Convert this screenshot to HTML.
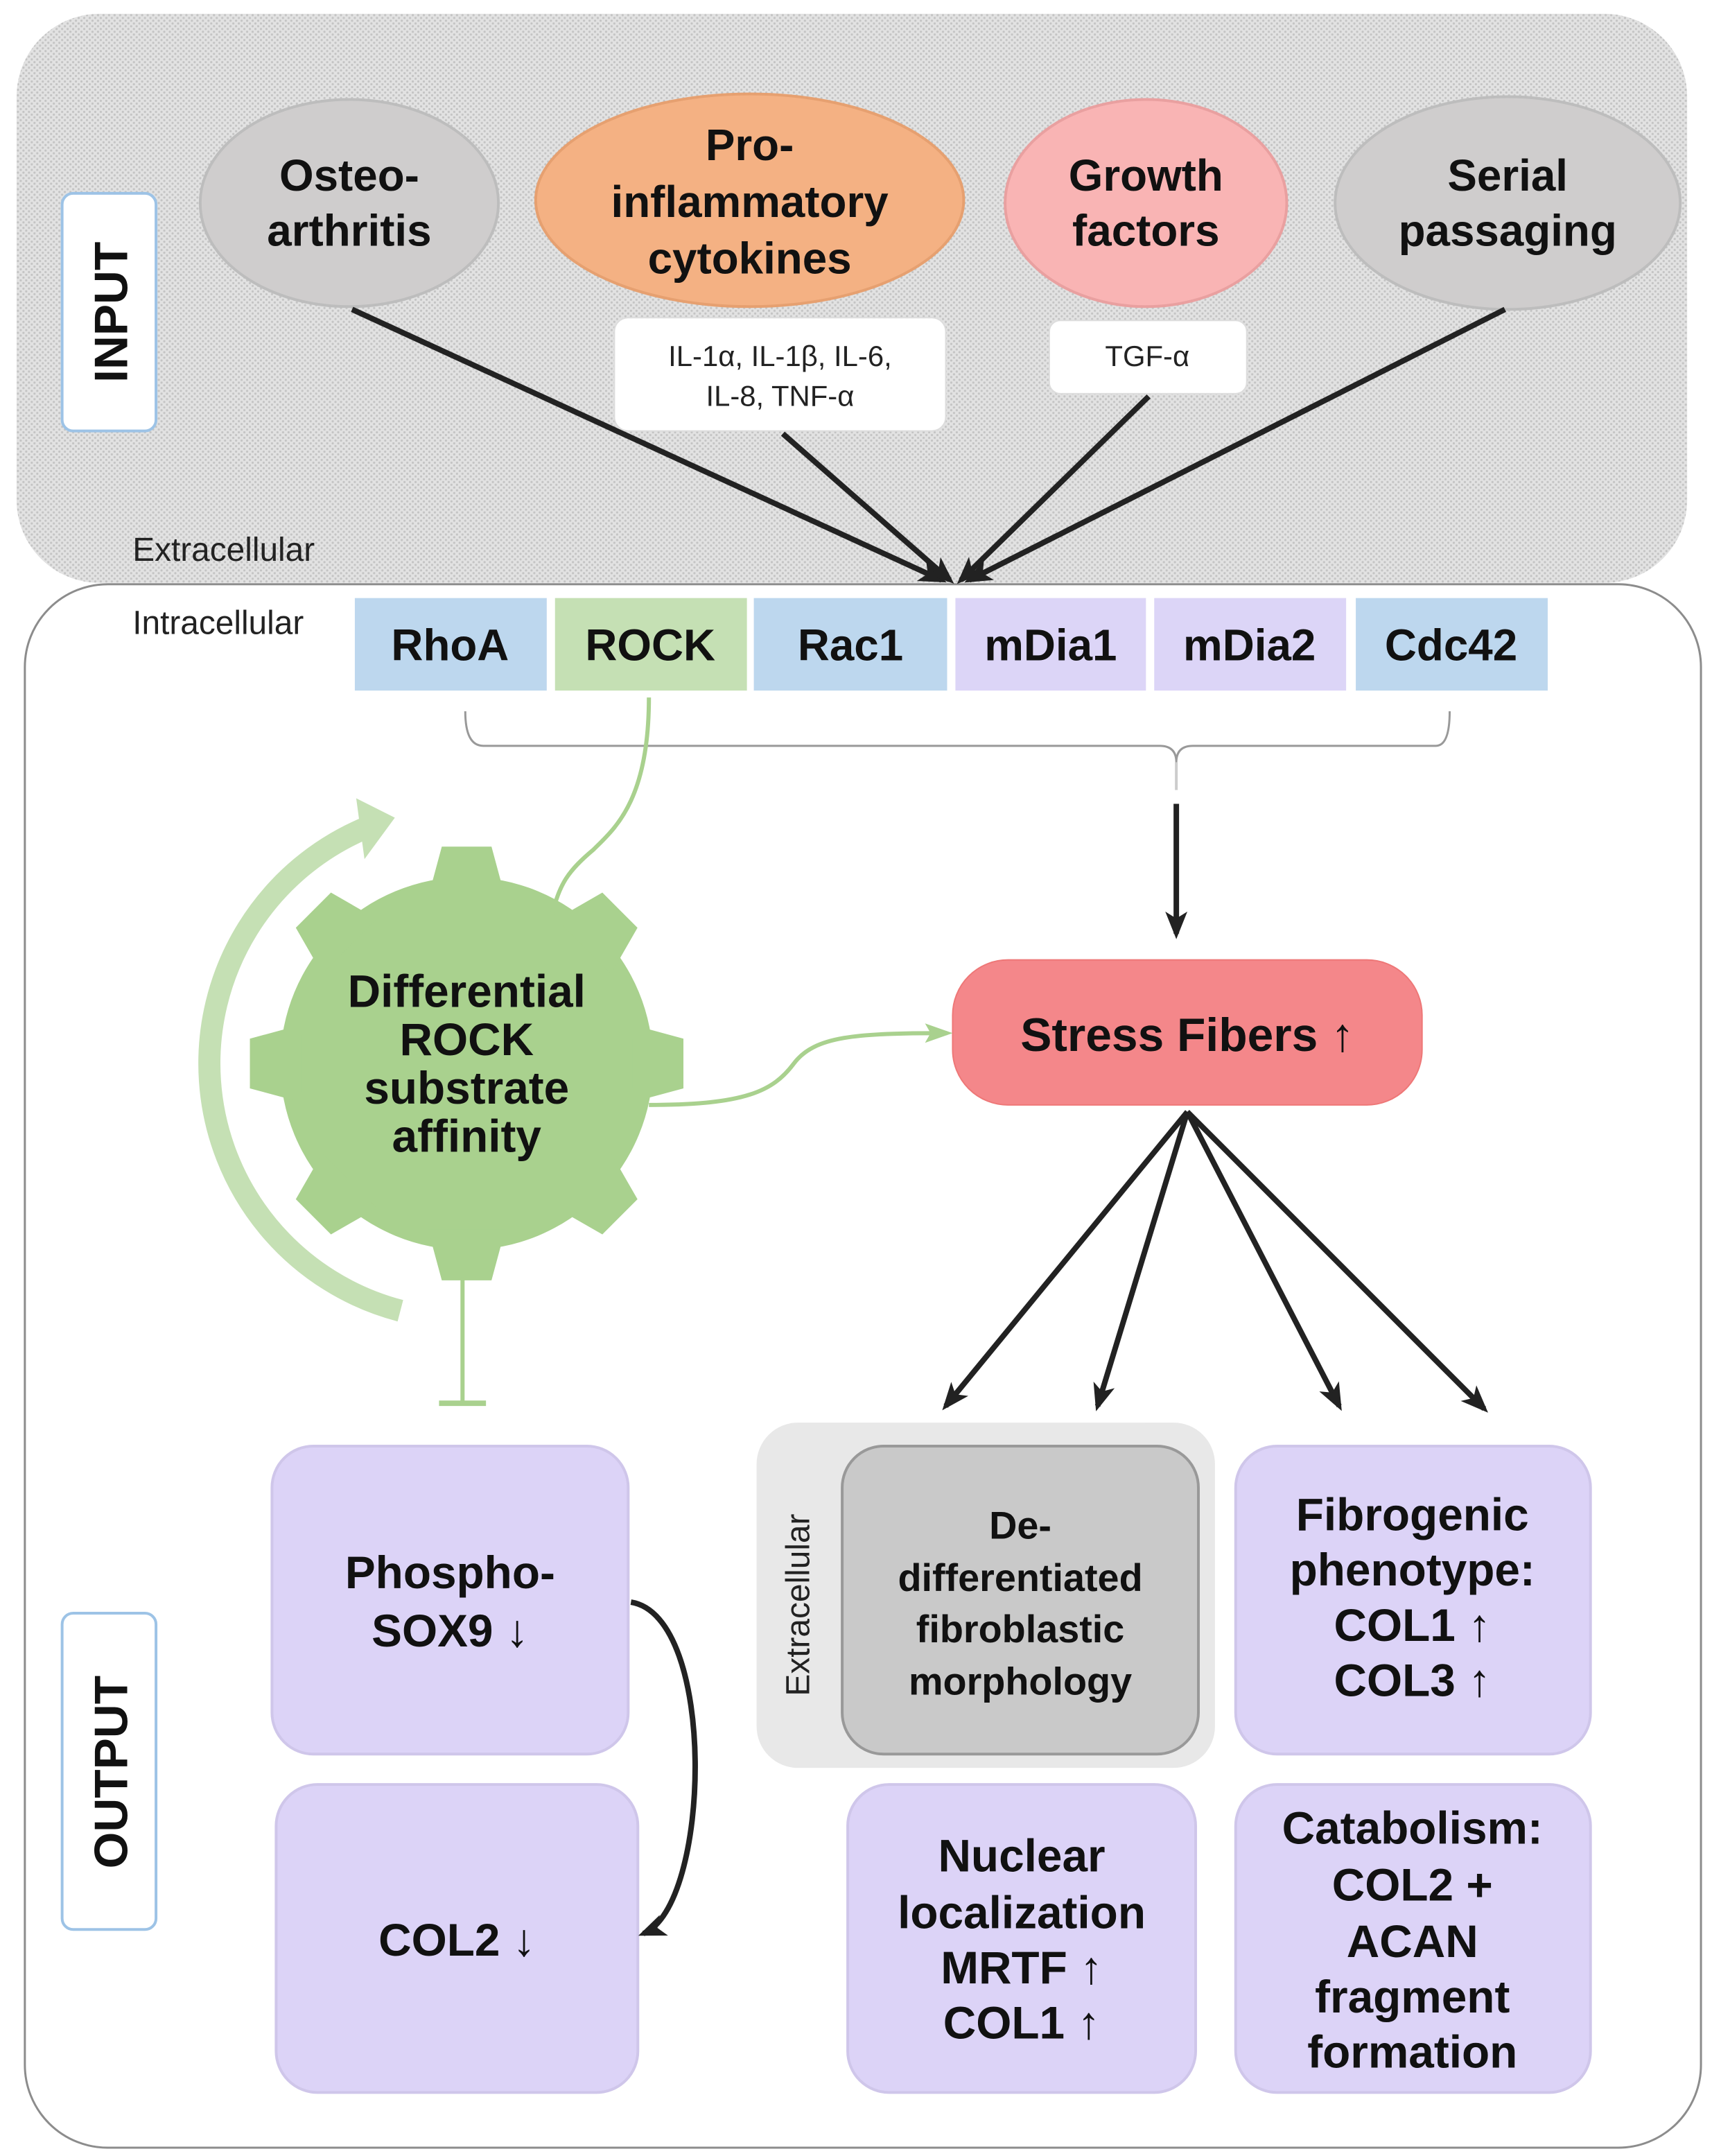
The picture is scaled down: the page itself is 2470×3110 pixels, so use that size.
<!DOCTYPE html>
<html><head><meta charset="utf-8"><style>
html,body{margin:0;padding:0;background:#fff;}
svg{display:block;}
text{font-family:"Liberation Sans",Arial,sans-serif;}
.b{font-weight:bold;fill:#111;}
</style></head><body>
<svg width="2470" height="3110" viewBox="0 0 1240 1561" preserveAspectRatio="none" xmlns="http://www.w3.org/2000/svg">
<defs>
<pattern id="dots" width="4" height="4" patternUnits="userSpaceOnUse">
<rect width="4" height="4" fill="#e2e2e2"/><circle cx="1" cy="1" r="0.8" fill="#c4c4c4"/><circle cx="3" cy="3" r="0.8" fill="#c4c4c4"/>
</pattern>
<marker id="ahb" markerWidth="20" markerHeight="20" refX="16" refY="10" orient="auto" markerUnits="userSpaceOnUse" viewBox="0 0 20 20">
<path d="M0,2 L20,10 L0,18 L5,10 Z" fill="#222"/></marker>
<marker id="ahg" markerWidth="20" markerHeight="20" refX="16" refY="10" orient="auto" markerUnits="userSpaceOnUse" viewBox="0 0 20 20">
<path d="M0,3 L20,10 L0,17 L4,10 Z" fill="#a9d18e"/></marker>
</defs>
<rect width="1240" height="1561" fill="#fff"/>
<rect x="12" y="10" width="1210" height="412" rx="60" fill="url(#dots)"/>
<rect x="18" y="423" width="1214" height="1132" rx="60" fill="#fff" stroke="#8c8c8c" stroke-width="1.5"/>
<rect x="45" y="140" width="68" height="172" rx="8" fill="#fff" stroke="#9dc3e6" stroke-width="2"/>
<text class="b" x="0" y="0" font-size="34" text-anchor="middle" transform="translate(92,226) rotate(-90)">INPUT</text>
<rect x="45" y="1168" width="68" height="229" rx="8" fill="#fff" stroke="#9dc3e6" stroke-width="2"/>
<text class="b" x="0" y="0" font-size="34" text-anchor="middle" transform="translate(92,1283) rotate(-90)">OUTPUT</text>
<ellipse cx="253" cy="147" rx="108" ry="75" fill="#cfcdcd" stroke="#bdbdbd" stroke-width="2"/>
<text class="b" font-size="32" text-anchor="middle"><tspan x="253" y="138">Osteo-</tspan><tspan x="253" y="178">arthritis</tspan></text>
<ellipse cx="543" cy="145" rx="155" ry="77" fill="#f4b183" stroke="#e6a070" stroke-width="2"/>
<text class="b" font-size="32" text-anchor="middle"><tspan x="543" y="116">Pro-</tspan><tspan x="543" y="157">inflammatory</tspan><tspan x="543" y="198">cytokines</tspan></text>
<ellipse cx="830" cy="147" rx="102" ry="75" fill="#f9b4b4" stroke="#e9a0a0" stroke-width="2"/>
<text class="b" font-size="32" text-anchor="middle"><tspan x="830" y="138">Growth</tspan><tspan x="830" y="178">factors</tspan></text>
<ellipse cx="1092" cy="147" rx="125" ry="77" fill="#cfcdcd" stroke="#bdbdbd" stroke-width="2"/>
<text class="b" font-size="32" text-anchor="middle"><tspan x="1092" y="138">Serial</tspan><tspan x="1092" y="178">passaging</tspan></text>
<rect x="445" y="230" width="240" height="82" rx="10" fill="#fff" stroke="#ddd"/>
<text font-size="21" text-anchor="middle" fill="#222"><tspan x="565" y="265">IL-1α, IL-1β, IL-6,</tspan><tspan x="565" y="294">IL-8, TNF-α</tspan></text>
<rect x="760" y="232" width="143" height="53" rx="8" fill="#fff" stroke="#ddd"/>
<text font-size="21" text-anchor="middle" fill="#222" x="831" y="265">TGF-α</text>
<g stroke="#222" stroke-width="4" fill="none">
<line x1="255" y1="224" x2="682" y2="420" marker-end="url(#ahb)"/>
<line x1="567" y1="314" x2="688" y2="420" marker-end="url(#ahb)"/>
<line x1="832" y1="287" x2="696" y2="420" marker-end="url(#ahb)"/>
<line x1="1090" y1="224" x2="702" y2="420" marker-end="url(#ahb)"/>
</g>
<text font-size="24" fill="#222" x="96" y="406">Extracellular</text>
<text font-size="24" fill="#222" x="96" y="459">Intracellular</text>
<rect x="257" y="433" width="139" height="67" fill="#bdd7ee"/>
<rect x="402" y="433" width="139" height="67" fill="#c5e0b4"/>
<rect x="546" y="433" width="140" height="67" fill="#bdd7ee"/>
<rect x="692" y="433" width="138" height="67" fill="#dcd5f7"/>
<rect x="836" y="433" width="139" height="67" fill="#dcd5f7"/>
<rect x="982" y="433" width="139" height="67" fill="#bdd7ee"/>
<g font-size="32" text-anchor="middle">
<text x="326" y="478" class="b">RhoA</text><text x="471" y="478" class="b">ROCK</text><text x="616" y="478" class="b">Rac1</text>
<text x="761" y="478" class="b">mDia1</text><text x="905" y="478" class="b">mDia2</text><text x="1051" y="478" class="b">Cdc42</text>
</g>
<path d="M337,515 Q337,540 350,540 L840,540 Q852,540 852,552 Q852,540 864,540 L1040,540 Q1050,540 1050,515" stroke="#999" stroke-width="1.5" fill="none"/>
<line x1="852" y1="552" x2="852" y2="572" stroke="#ccc" stroke-width="2"/>
<line x1="852" y1="582" x2="852" y2="676" stroke="#222" stroke-width="4" marker-end="url(#ahb)"/>
<rect x="690" y="695" width="340" height="105" rx="40" fill="#f4878a" stroke="#e77" stroke-width="1"/>
<text class="b" font-size="34" text-anchor="middle" x="860" y="761">Stress Fibers ↑</text>
<!-- arc arrow -->
<path d="M290,949 A185,185 0 0 1 266,599" stroke="#c5e0b4" stroke-width="16" fill="none"/>
<path d="M258,578 L286,592 L264,622 Z" fill="#c5e0b4"/>
<!-- gear -->
<g fill="#a9d18e" transform="translate(338,770)">
<circle r="135"/>
<path id="t" d="M-28,-120 L-18,-157 L18,-157 L28,-120 Z"/>
<use href="#t" transform="rotate(45)"/><use href="#t" transform="rotate(90)"/><use href="#t" transform="rotate(135)"/>
<use href="#t" transform="rotate(180)"/><use href="#t" transform="rotate(225)"/><use href="#t" transform="rotate(270)"/><use href="#t" transform="rotate(315)"/>
</g>
<text class="b" font-size="33" text-anchor="middle"><tspan x="338" y="729">Differential</tspan><tspan x="338" y="764">ROCK</tspan><tspan x="338" y="799">substrate</tspan><tspan x="338" y="834">affinity</tspan></text>
<path d="M470,505 C470,580 445,600 430,615 C412,630 405,640 400,662" stroke="#a9d18e" stroke-width="3" fill="none"/>
<path d="M470,800 C540,800 560,790 575,770 C590,750 620,748 686,748" stroke="#a9d18e" stroke-width="3" fill="none" marker-end="url(#ahg)"/>
<line x1="335" y1="925" x2="335" y2="1016" stroke="#a9d18e" stroke-width="3"/>
<line x1="318" y1="1016" x2="352" y2="1016" stroke="#a9d18e" stroke-width="4"/>
<g stroke="#222" stroke-width="4" fill="none">
<line x1="860" y1="805" x2="685" y2="1018" marker-end="url(#ahb)"/>
<line x1="860" y1="805" x2="795" y2="1018" marker-end="url(#ahb)"/>
<line x1="860" y1="805" x2="970" y2="1018" marker-end="url(#ahb)"/>
<line x1="860" y1="805" x2="1075" y2="1020" marker-end="url(#ahb)"/>
</g>
<g fill="#dcd3f7" stroke="#cfc6ea" stroke-width="2">
<rect x="197" y="1047" width="258" height="223" rx="30"/>
<rect x="200" y="1292" width="262" height="223" rx="30"/>
<rect x="895" y="1047" width="257" height="223" rx="30"/>
<rect x="614" y="1292" width="252" height="223" rx="30"/>
<rect x="895" y="1292" width="257" height="223" rx="30"/>
</g>
<rect x="548" y="1030" width="332" height="250" rx="30" fill="#e8e8e8"/>
<rect x="610" y="1047" width="258" height="223" rx="30" fill="#c9c9c9" stroke="#999" stroke-width="2"/>
<text font-size="24" fill="#222" transform="translate(586,1162) rotate(-90)" text-anchor="middle">Extracellular</text>
<g text-anchor="middle">
<text class="b" font-size="33"><tspan x="326" y="1150">Phospho-</tspan><tspan x="326" y="1192">SOX9 ↓</tspan></text>
<text class="b" font-size="33" x="331" y="1416">COL2 ↓</text>
<text class="b" font-size="28"><tspan x="739" y="1114">De-</tspan><tspan x="739" y="1152">differentiated</tspan><tspan x="739" y="1189">fibroblastic</tspan><tspan x="739" y="1227">morphology</tspan></text>
<text class="b" font-size="33"><tspan x="1023" y="1108">Fibrogenic</tspan><tspan x="1023" y="1148">phenotype:</tspan><tspan x="1023" y="1188">COL1 ↑</tspan><tspan x="1023" y="1228">COL3 ↑</tspan></text>
<text class="b" font-size="33"><tspan x="740" y="1355">Nuclear</tspan><tspan x="740" y="1396">localization</tspan><tspan x="740" y="1436">MRTF ↑</tspan><tspan x="740" y="1476">COL1 ↑</tspan></text>
<text class="b" font-size="33"><tspan x="1023" y="1335">Catabolism:</tspan><tspan x="1023" y="1376">COL2 +</tspan><tspan x="1023" y="1417">ACAN</tspan><tspan x="1023" y="1457">fragment</tspan><tspan x="1023" y="1497">formation</tspan></text>
</g>
<path d="M457,1160 C520,1170 515,1380 466,1400" stroke="#222" stroke-width="4" fill="none" marker-end="url(#ahb)"/>
</svg>
</body></html>
